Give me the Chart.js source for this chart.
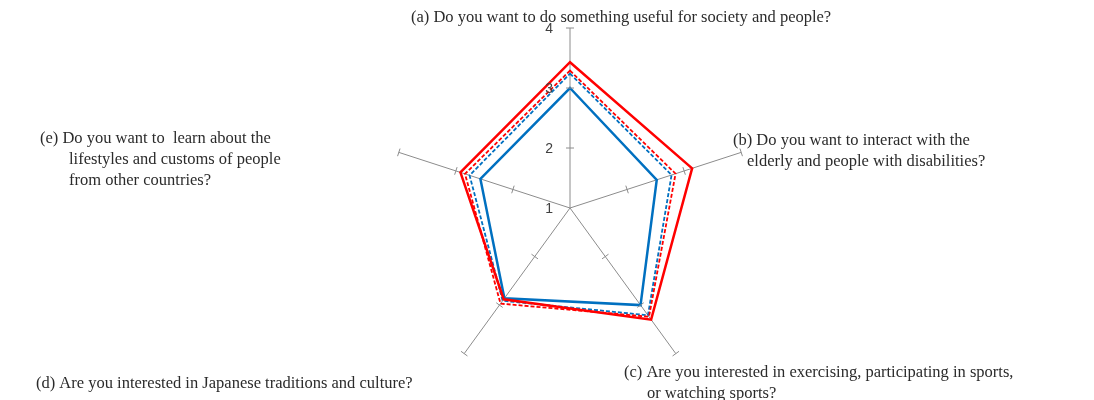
<!DOCTYPE html>
<html>
<head>
<meta charset="utf-8">
<script src="https://cdn.jsdelivr.net/npm/chart.js@4"></script>
<style>
  html, body { margin: 0; padding: 0; background: #fff; }
  #wrap { width: 1094px; height: 400px; position: relative; }
</style>
</head>
<body>
<div id="wrap"><canvas id="radar" width="1094" height="400"></canvas></div>
<script>
const categories = ["(a)", "(b)", "(c)", "(d)", "(e)"];
const redSolid = [3.43, 3.14, 3.30, 2.88, 2.92];
const redDashed = [3.29, 2.85, 3.24, 2.97, 2.84];
const blueDashed = [3.24, 2.78, 3.21, 2.91, 2.76];
const blueSolid = [3.00, 2.52, 3.00, 2.86, 2.57];
const tickValues = [1, 2, 3, 4];

// label text, drawn outside the plot like the original
const axisLabels = [
    { lines: ["(a) Do you want to do something useful for society and people?"], x: [411], y: 18 },
    { lines: ["(b) Do you want to interact with the", "elderly and people with disabilities?"], x: [733, 747], y: 141 },
    { lines: ["(c) Are you interested in exercising, participating in sports,", "or watching sports?"], x: [624, 647], y: 373 },
    { lines: ["(d) Are you interested in Japanese traditions and culture?"], x: [36], y: 384 },
    { lines: ["(e) Do you want to  learn about the", "lifestyles and customs of people", "from other countries?"], x: [40, 69, 69], y: 139 },
];

const decorations = {
    id: "decorations",
    afterDraw(chart) {
        const scale = chart.scales.r;
        const ctx = chart.ctx;
        ctx.save();
        // tick marks across each axis
        ctx.strokeStyle = "#8c8c8c";
        ctx.lineWidth = 1;
        for (let i = 0; i < categories.length; i++) {
            tickValues.slice(1).forEach((v) => {
                const p = scale.getPointPositionForValue(i, v);
                const nx = -Math.sin(p.angle) * 4;
                const ny = Math.cos(p.angle) * 4;
                ctx.beginPath();
                ctx.moveTo(p.x - nx, p.y - ny);
                ctx.lineTo(p.x + nx, p.y + ny);
                ctx.stroke();
            });
        }
        // tick labels on the top axis
        ctx.fillStyle = "#404040";
        ctx.font = "14px 'Liberation Sans', Arial, sans-serif";
        ctx.textAlign = "right";
        ctx.textBaseline = "middle";
        tickValues.forEach((v) => {
            const y = scale.yCenter - scale.getDistanceFromCenterForValue(v);
            ctx.fillText(String(v), scale.xCenter - 17, y + 1);
        });
        // category labels
        ctx.fillStyle = "#2b2b2b";
        ctx.font = "16.5px 'Liberation Serif', 'Times New Roman', serif";
        ctx.textAlign = "left";
        axisLabels.forEach((lab) => {
            lab.lines.forEach((t, k) => {
                ctx.fillText(t, lab.x[k], lab.y + k * 21);
            });
        });
        ctx.restore();
    },
};

new Chart(document.getElementById("radar"), {
    type: "radar",
    data: {
        labels: categories,
        datasets: [
            { label: "red solid", data: redSolid, borderColor: "#ff0000", borderWidth: 2.5, fill: false },
            { label: "red dashed", data: redDashed, borderColor: "#ff0000", borderWidth: 1.8, borderDash: [4, 2], fill: false },
            { label: "blue dashed", data: blueDashed, borderColor: "#0070c0", borderWidth: 1.8, borderDash: [4, 2], fill: false },
            { label: "blue solid", data: blueSolid, borderColor: "#0070c0", borderWidth: 2.5, fill: false },
        ],
    },
    options: {
        responsive: false,
        animation: false,
        layout: { padding: { left: 390, right: 344, top: 28, bottom: 12 } },
        elements: { point: { radius: 0 }, line: { tension: 0 } },
        plugins: { legend: { display: false }, tooltip: { enabled: false } },
        scales: {
            r: {
                min: 1,
                max: 4,
                ticks: { display: false, stepSize: 1 },
                grid: { display: false },
                angleLines: { display: true, color: "#8c8c8c", lineWidth: 1 },
                pointLabels: { display: false },
            },
        },
    },
    plugins: [decorations],
});
</script>
</body>
</html>
